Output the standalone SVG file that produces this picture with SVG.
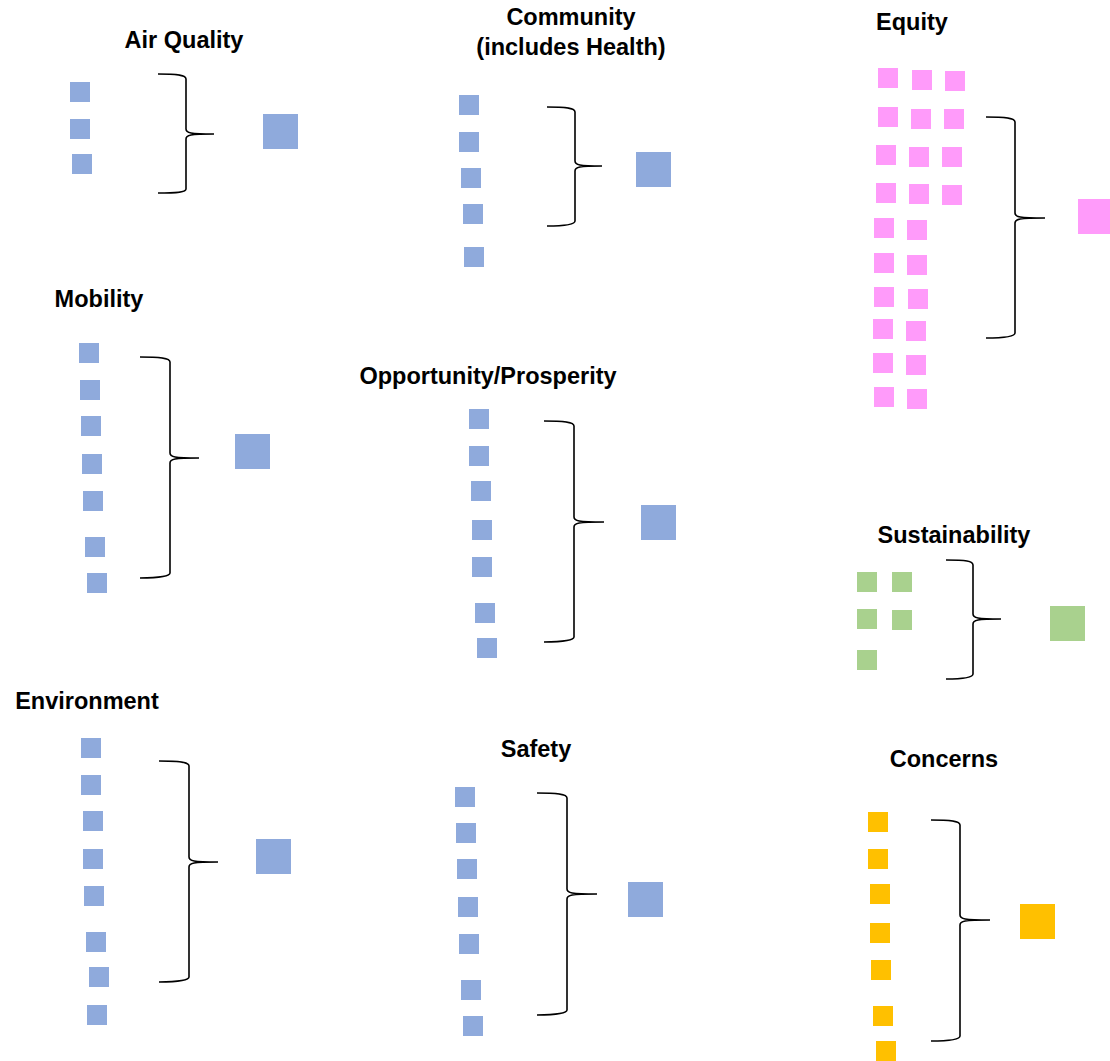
<svg xmlns="http://www.w3.org/2000/svg" width="1110" height="1061" viewBox="0 0 1110 1061">
<style>
text{font-family:"Liberation Sans",Arial,sans-serif;font-weight:bold;font-size:23.5px;fill:#000;text-anchor:middle}
.b{fill:#8FAADC}.p{fill:#FF9BFA}.g{fill:#A9D18E}.o{fill:#FFC000}
.br{fill:none;stroke:#000;stroke-width:1.6}
</style>
<defs>
<rect id="s" width="20" height="20"/>
<rect id="L" width="35" height="35"/>
</defs>
<rect width="1110" height="1061" fill="#fff"/>

<g id="air-quality">
<text x="184" y="48">Air Quality</text>
<g class="b">
<use href="#s" x="70" y="82"/><use href="#s" x="70" y="119"/><use href="#s" x="72" y="154"/>
<use href="#L" x="263" y="114"/>
</g>
</g>

<g id="community">
<text x="571" y="25">Community</text>
<text x="571" y="55">(includes Health)</text>
<g class="b">
<use href="#s" x="459" y="95"/><use href="#s" x="459" y="132"/><use href="#s" x="461" y="168"/><use href="#s" x="463" y="204"/><use href="#s" x="464" y="247"/>
<use href="#L" x="636" y="152"/>
</g>
</g>

<g id="equity">
<text x="912" y="30">Equity</text>
<g class="p">
<use href="#s" x="878" y="68"/><use href="#s" x="912" y="70"/><use href="#s" x="945" y="71"/>
<use href="#s" x="878" y="107"/><use href="#s" x="911" y="109"/><use href="#s" x="944" y="109"/>
<use href="#s" x="876" y="145"/><use href="#s" x="909" y="147"/><use href="#s" x="942" y="147"/>
<use href="#s" x="876" y="183"/><use href="#s" x="909" y="184"/><use href="#s" x="942" y="185"/>
<use href="#s" x="874" y="218"/><use href="#s" x="907" y="220"/>
<use href="#s" x="874" y="253"/><use href="#s" x="907" y="255"/>
<use href="#s" x="874" y="287"/><use href="#s" x="908" y="289"/>
<use href="#s" x="873" y="319"/><use href="#s" x="906" y="321"/>
<use href="#s" x="873" y="353"/><use href="#s" x="906" y="355"/>
<use href="#s" x="874" y="387"/><use href="#s" x="907" y="389"/>
<use href="#L" x="1078" y="199"/>
</g>
</g>

<g id="mobility">
<text x="99" y="307">Mobility</text>
<g class="b">
<use href="#s" x="79" y="343"/><use href="#s" x="80" y="380"/><use href="#s" x="81" y="416"/><use href="#s" x="82" y="454"/><use href="#s" x="83" y="491"/><use href="#s" x="85" y="537"/><use href="#s" x="87" y="573"/>
<use href="#L" x="235" y="434"/>
</g>
</g>

<g id="opportunity-prosperity">
<text x="488" y="384">Opportunity/Prosperity</text>
<g class="b">
<use href="#s" x="469" y="409"/><use href="#s" x="469" y="446"/><use href="#s" x="471" y="481"/><use href="#s" x="472" y="520"/><use href="#s" x="472" y="557"/><use href="#s" x="475" y="603"/><use href="#s" x="477" y="638"/>
<use href="#L" x="641" y="505"/>
</g>
</g>

<g id="sustainability">
<text x="954" y="543">Sustainability</text>
<g class="g">
<use href="#s" x="857" y="572"/><use href="#s" x="892" y="572"/>
<use href="#s" x="857" y="609"/><use href="#s" x="892" y="610"/>
<use href="#s" x="857" y="650"/>
<use href="#L" x="1050" y="606"/>
</g>
</g>

<g id="environment">
<text x="87" y="709">Environment</text>
<g class="b">
<use href="#s" x="81" y="738"/><use href="#s" x="81" y="775"/><use href="#s" x="83" y="811"/><use href="#s" x="83" y="849"/><use href="#s" x="84" y="886"/><use href="#s" x="86" y="932"/><use href="#s" x="89" y="967"/><use href="#s" x="87" y="1005"/>
<use href="#L" x="256" y="839"/>
</g>
</g>

<g id="safety">
<text x="536" y="757">Safety</text>
<g class="b">
<use href="#s" x="455" y="787"/><use href="#s" x="456" y="823"/><use href="#s" x="457" y="859"/><use href="#s" x="458" y="897"/><use href="#s" x="459" y="934"/><use href="#s" x="461" y="980"/><use href="#s" x="463" y="1016"/>
<use href="#L" x="628" y="882"/>
</g>
</g>

<g id="concerns">
<text x="944" y="767">Concerns</text>
<g class="o">
<use href="#s" x="868" y="812"/><use href="#s" x="868" y="849"/><use href="#s" x="870" y="884"/><use href="#s" x="870" y="923"/><use href="#s" x="871" y="960"/><use href="#s" x="873" y="1006"/><use href="#s" x="876" y="1041"/>
<use href="#L" x="1020" y="904"/>
</g>
</g>

<g id="connectors" class="br">
<path d="M158 74 C178 74 186 75 186 79 L186 129 C186 133 190 134 214 134 M214 134 C190 134 186 135 186 139 L186 189 C186 192 178 193 158 193"/>
<path d="M547 107 C567 107 575 108 575 112 L575 161 C575 165 579 166 602 166 M602 166 C579 166 575 167 575 171 L575 221 C575 224 567 226 547 226"/>
<path d="M986 117 C1006 117 1015 118 1015 122 L1015 213 C1015 217 1019 218 1045 218 M1045 218 C1019 218 1015 219 1015 223 L1015 333 C1015 336 1006 338 986 338"/>
<path d="M140 357 C160 357 170 358 170 362 L170 453 C170 457 174 458 199 458 M199 458 C174 458 170 459 170 463 L170 573 C170 576 160 578 140 578"/>
<path d="M544 421 C564 421 574 422 574 426 L574 517 C574 521 578 522 604 522 M604 522 C578 522 574 523 574 527 L574 637 C574 640 564 642 544 642"/>
<path d="M946 560 C966 560 973 561 973 565 L973 614 C973 618 977 619 1001 619 M1001 619 C977 619 973 620 973 624 L973 674 C973 677 966 679 946 679"/>
<path d="M159 761 C179 761 189 762 189 766 L189 857 C189 861 193 862 218 862 M218 862 C193 862 189 863 189 867 L189 977 C189 980 179 982 159 982"/>
<path d="M537 793 C557 793 567 794 567 798 L567 889 C567 893 571 894 597 894 M597 894 C571 894 567 895 567 899 L567 1010 C567 1013 557 1015 537 1015"/>
<path d="M931 820 C951 820 960 821 960 825 L960 915 C960 919 964 920 990 920 M990 920 C964 920 960 921 960 925 L960 1036 C960 1039 951 1041 931 1041"/>
</g>
</svg>
